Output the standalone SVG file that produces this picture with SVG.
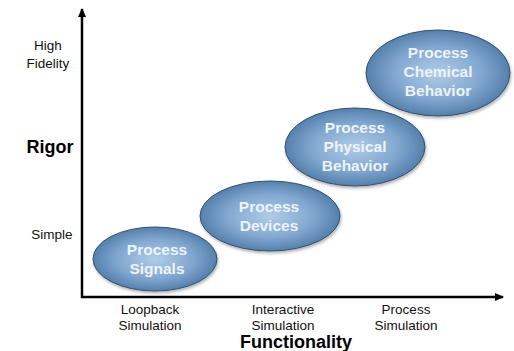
<svg xmlns="http://www.w3.org/2000/svg" width="514" height="351" viewBox="0 0 514 351">
<defs>
<radialGradient id="g" cx="50%" cy="50%" r="55%">
<stop offset="0" stop-color="#b0cce8"/>
<stop offset="0.55" stop-color="#82a8d0"/>
<stop offset="1" stop-color="#4a76a3"/>
</radialGradient>
<marker id="ah" markerWidth="10" markerHeight="10" refX="8" refY="5" orient="auto" markerUnits="userSpaceOnUse">
<path d="M0,1 L9,5 L0,9 Z" fill="#000"/>
</marker>
<filter id="sh" x="-10%" y="-10%" width="130%" height="130%">
<feDropShadow dx="1" dy="2" stdDeviation="1.5" flood-color="#000" flood-opacity="0.3"/>
</filter>
</defs>
<style>
.e{fill:url(#g);stroke:#34506e;stroke-width:1;filter:url(#sh)}
.t{font-family:"Liberation Sans",Arial,sans-serif;font-size:15.5px;font-weight:bold;fill:#eef3f8;text-anchor:middle}
.l{font-family:"Liberation Sans",Arial,sans-serif;font-size:13.5px;fill:#111;text-anchor:middle}
.b{font-family:"Liberation Sans",Arial,sans-serif;font-weight:bold;fill:#000;text-anchor:middle}
</style>
<rect width="514" height="351" fill="#fff"/>
<g id="connectors">
<line x1="82" y1="298" x2="82" y2="9" stroke="#000" stroke-width="2.5" marker-end="url(#ah)"/>
<line x1="81" y1="297" x2="503" y2="297" stroke="#000" stroke-width="2.5" marker-end="url(#ah)"/>
</g>
<g id="labels">
<text class="l" x="48" y="50">High</text>
<text class="l" x="48" y="68">Fidelity</text>
<text class="b" x="50" y="153" font-size="18">Rigor</text>
<text class="l" x="52" y="239">Simple</text>
<text class="l" x="150" y="314">Loopback</text>
<text class="l" x="150" y="330">Simulation</text>
<text class="l" x="283" y="314">Interactive</text>
<text class="l" x="283" y="330">Simulation</text>
<text class="l" x="406" y="314">Process</text>
<text class="l" x="406" y="330">Simulation</text>
<text class="b" x="296" y="348" font-size="18">Functionality</text>
</g>
<g id="signals">
<ellipse class="e" cx="155" cy="259" rx="62" ry="32"/>
<text class="t" x="157" y="255">Process</text>
<text class="t" x="157" y="274">Signals</text>
</g>
<g id="devices">
<ellipse class="e" cx="270" cy="216" rx="70" ry="35"/>
<text class="t" x="269" y="212">Process</text>
<text class="t" x="269" y="231">Devices</text>
</g>
<g id="physical">
<ellipse class="e" cx="355" cy="147" rx="70" ry="39"/>
<text class="t" x="355" y="133">Process</text>
<text class="t" x="355" y="152">Physical</text>
<text class="t" x="355" y="171">Behavior</text>
</g>
<g id="chemical">
<ellipse class="e" cx="438" cy="73" rx="72" ry="43"/>
<text class="t" x="438" y="58">Process</text>
<text class="t" x="438" y="77">Chemical</text>
<text class="t" x="438" y="96">Behavior</text>
</g>
</svg>
